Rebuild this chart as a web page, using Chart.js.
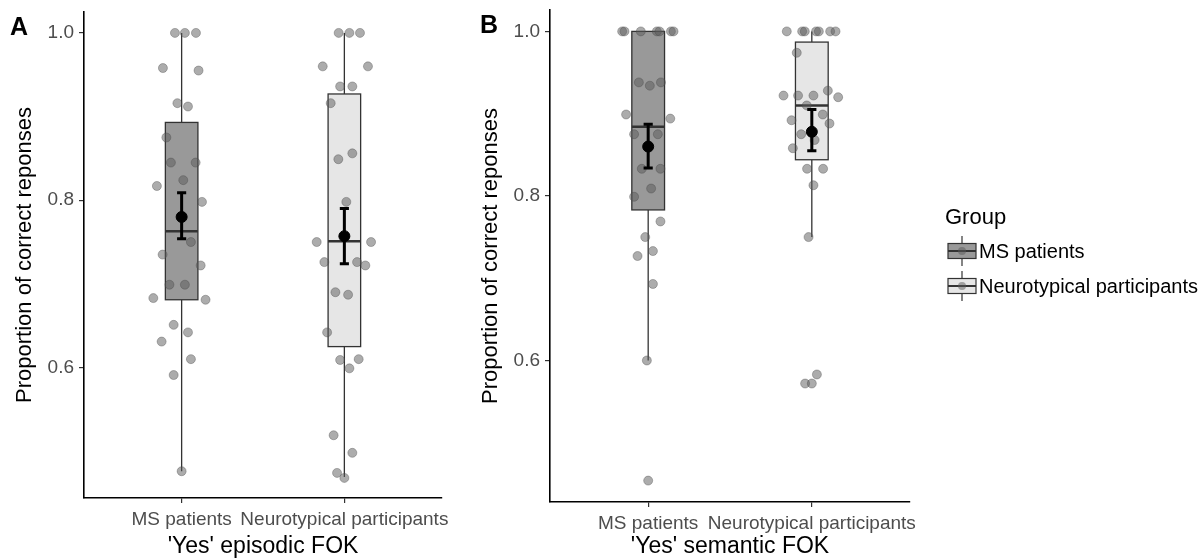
<!DOCTYPE html>
<html>
<head>
<meta charset="utf-8">
<script src="https://cdn.jsdelivr.net/npm/chart.js@4.4.1/dist/chart.umd.min.js"></script>
<style>
body { margin: 0; background: #fff; }
#wrapA { position: absolute; left: 0; top: 0; width: 460px; height: 560px; }
#wrapB { position: absolute; left: 460px; top: 0; width: 744px; height: 560px; }
</style>
</head>
<body>
<div id="wrapA"><canvas id="chartA"></canvas></div>
<div id="wrapB"><canvas id="chartB"></canvas></div>
<script>
var groups = ["MS patients", "Neurotypical participants"];
var yTicks = [0.6, 0.8, 1.0];

// 'Yes' episodic FOK - individual proportions and horizontal jitter (category units)
var epMsY   = [1.0, 1.0, 1.0, 0.958, 0.955, 0.916, 0.912, 0.875, 0.845, 0.845, 0.817, 0.824, 0.798, 0.750, 0.735, 0.722, 0.699, 0.699, 0.683, 0.681, 0.651, 0.642, 0.631, 0.610, 0.591, 0.476];
var epMsJit = [-0.041, 0.020, 0.088, -0.115, 0.104, -0.026, 0.039, -0.094, -0.066, 0.086, -0.152, 0.010, 0.125, 0.057, -0.117, 0.117, -0.075, 0.020, -0.174, 0.147, -0.049, 0.039, -0.123, 0.057, -0.049, 0];
var epNtY   = [1.0, 1.0, 1.0, 0.960, 0.960, 0.936, 0.936, 0.916, 0.856, 0.849, 0.798, 0.750, 0.750, 0.726, 0.726, 0.722, 0.690, 0.687, 0.642, 0.609, 0.610, 0.599, 0.519, 0.498, 0.474, 0.468];
var epNtJit = [-0.035, 0.031, 0.096, -0.133, 0.145, -0.026, 0.049, -0.084, 0.049, -0.037, 0.012, -0.170, 0.164, -0.123, 0.078, 0.129, -0.055, 0.023, -0.106, -0.026, 0.088, 0.031, -0.066, 0.049, -0.045, 0];
var epQ1   = [0.681, 0.625];
var epMed  = [0.763, 0.751];
var epQ3   = [0.893, 0.927];
var epLow  = [0.476, 0.469];
var epHigh = [1.0, 1.0];
var epMean = [0.780, 0.757];
var epSeLo = [0.754, 0.724];
var epSeHi = [0.809, 0.790];

// 'Yes' semantic FOK
var seMsY   = [1.0, 1.0, 1.0, 1.0, 1.0, 1.0, 1.0, 0.938, 0.934, 0.938, 0.899, 0.894, 0.875, 0.875, 0.833, 0.833, 0.809, 0.799, 0.769, 0.750, 0.727, 0.733, 0.693, 0.600, 0.454];
var seMsJit = [-0.159, -0.145, -0.045, 0.053, 0.069, 0.139, 0.155, -0.057, 0.010, 0.078, -0.135, 0.135, -0.086, 0.059, -0.039, 0.075, 0.018, -0.086, 0.075, -0.018, -0.065, 0.029, 0.029, -0.008, 0];
var seNtY   = [1.0, 1.0, 1.0, 1.0, 1.0, 1.0, 1.0, 0.974, 0.922, 0.922, 0.922, 0.928, 0.920, 0.910, 0.892, 0.899, 0.888, 0.875, 0.868, 0.858, 0.833, 0.833, 0.813, 0.750, 0.572, 0.572, 0.583];
var seNtJit = [-0.153, -0.059, -0.043, 0.026, 0.043, 0.112, 0.145, -0.092, -0.173, -0.084, 0.010, 0.098, 0.161, -0.031, -0.124, 0.067, 0.108, -0.065, 0.017, -0.116, -0.029, 0.069, 0.010, -0.020, -0.041, 0, 0.031];
var seQ1   = [0.783, 0.844];
var seMed  = [0.884, 0.910];
var seQ3   = [1.0, 0.987];
var seLow  = [0.600, 0.750];
var seHigh = [1.0, 1.0];
var seMean = [0.860, 0.878];
var seSeLo = [0.834, 0.855];
var seSeHi = [0.887, 0.905];

var boxFills = ["#999999", "#e6e6e6"];
var fontFam = "'Liberation Sans', Arial, sans-serif";

function jitterPoints(ys, jit, pos) {
    var out = [];
    for (var i = 0; i < ys.length; i++) out.push({x: pos + jit[i], y: ys[i]});
    return out;
}

function errorBarData(lo, hi) {
    var cap = 0.028, d = [];
    for (var i = 0; i < lo.length; i++) {
        var c = i + 1;
        d.push({x: c, y: lo[i]}, {x: c, y: hi[i]}, {x: c, y: null});
        d.push({x: c - cap, y: lo[i]}, {x: c + cap, y: lo[i]}, {x: c, y: null});
        d.push({x: c - cap, y: hi[i]}, {x: c + cap, y: hi[i]}, {x: c, y: null});
    }
    return d;
}

var boxPlugin = {
    id: 'boxes',
    beforeDatasetsDraw: function (chart, args, o) {
        var ctx = chart.ctx, xs = chart.scales.x, ys = chart.scales.y;
        ctx.save();
        for (var i = 0; i < o.q1.length; i++) {
            var c = xs.getPixelForValue(i + 1);
            var l = xs.getPixelForValue(i + 1 - 0.1), r = xs.getPixelForValue(i + 1 + 0.1);
            var yq1 = ys.getPixelForValue(o.q1[i]), yq3 = ys.getPixelForValue(o.q3[i]);
            ctx.strokeStyle = '#333';
            ctx.lineWidth = 1.3;
            ctx.beginPath();
            ctx.moveTo(c, ys.getPixelForValue(o.high[i])); ctx.lineTo(c, yq3);
            ctx.moveTo(c, yq1); ctx.lineTo(c, ys.getPixelForValue(o.low[i]));
            ctx.stroke();
            ctx.fillStyle = boxFills[i];
            ctx.fillRect(l, yq3, r - l, yq1 - yq3);
            ctx.strokeRect(l, yq3, r - l, yq1 - yq3);
            ctx.lineWidth = 2.5;
            ctx.beginPath();
            var ym = ys.getPixelForValue(o.med[i]);
            ctx.moveTo(l, ym); ctx.lineTo(r, ym);
            ctx.stroke();
        }
        ctx.restore();
    }
};

var panelLabel = {
    id: 'panelLabel',
    afterDraw: function (chart, args, o) {
        var ctx = chart.ctx;
        ctx.save();
        ctx.font = 'bold 25px ' + fontFam;
        ctx.fillStyle = '#000';
        ctx.textBaseline = 'alphabetic';
        ctx.fillText(o.text, o.x, o.y);
        ctx.restore();
    }
};

var groupLegend = {
    id: 'groupLegend',
    afterDraw: function (chart, args, o) {
        if (!o.show) return;
        var ctx = chart.ctx;
        ctx.save();
        ctx.fillStyle = '#000';
        ctx.font = '22px ' + fontFam;
        ctx.textBaseline = 'middle';
        ctx.fillText('Group', o.x, o.y);
        for (var i = 0; i < groups.length; i++) {
            var cy = o.y + 33 + i * 35, kx = o.x + 3;
            ctx.strokeStyle = '#333';
            ctx.lineWidth = 1.2;
            ctx.beginPath();
            ctx.moveTo(kx + 14, cy - 15); ctx.lineTo(kx + 14, cy + 15);
            ctx.stroke();
            ctx.fillStyle = boxFills[i];
            ctx.fillRect(kx, cy - 7.5, 28, 15);
            ctx.strokeRect(kx, cy - 7.5, 28, 15);
            ctx.lineWidth = 2;
            ctx.beginPath();
            ctx.moveTo(kx, cy); ctx.lineTo(kx + 28, cy);
            ctx.stroke();
            ctx.fillStyle = 'rgba(90,90,90,0.5)';
            ctx.beginPath();
            ctx.arc(kx + 14, cy, 4, 0, Math.PI * 2);
            ctx.fill();
            ctx.fillStyle = '#000';
            ctx.font = '20px ' + fontFam;
            ctx.fillText(groups[i], kx + 31, cy + 1);
        }
        ctx.restore();
    }
};

function makeChart(id, cfg) {
    var ctx = document.getElementById(id).getContext('2d');
    return new Chart(ctx, {
        type: 'scatter',
        data: {
            datasets: [{
                data: jitterPoints(cfg.msY, cfg.msJit, 1).concat(jitterPoints(cfg.ntY, cfg.ntJit, 2)),
                backgroundColor: 'rgba(90,90,90,0.5)',
                borderColor: 'rgba(70,70,70,0.45)',
                borderWidth: 0.8,
                pointRadius: 4.5,
                order: 3
            }, {
                data: errorBarData(cfg.seLo, cfg.seHi),
                showLine: true,
                spanGaps: false,
                borderColor: '#000',
                borderWidth: 3,
                pointRadius: 0,
                order: 2
            }, {
                data: cfg.mean.map(function (m, i) { return {x: i + 1, y: m}; }),
                backgroundColor: '#000',
                borderColor: '#000',
                pointRadius: 5.5,
                order: 1
            }]
        },
        options: {
            responsive: true,
            maintainAspectRatio: false,
            animation: false,
            layout: { padding: cfg.padding },
            plugins: {
                legend: { display: false },
                tooltip: { enabled: false },
                boxes: { q1: cfg.q1, med: cfg.med, q3: cfg.q3, low: cfg.low, high: cfg.high },
                panelLabel: cfg.label,
                groupLegend: cfg.legend
            },
            scales: {
                x: {
                    type: 'linear',
                    min: 0.4,
                    max: 2.6,
                    afterBuildTicks: function (s) { s.ticks = [{value: 1}, {value: 2}]; },
                    afterFit: function (s) { s.height = cfg.xHeight; s.paddingLeft = 0; s.paddingRight = 0; },
                    ticks: {
                        callback: function (v) { return groups[v - 1]; },
                        autoSkip: false,
                        maxRotation: 0,
                        padding: 5,
                        color: '#4d4d4d',
                        font: { family: fontFam, size: 19 }
                    },
                    grid: { display: true, drawOnChartArea: false, drawTicks: true, tickLength: 5, color: '#333', lineWidth: 1.2 },
                    border: { display: true, color: '#000', width: 1.6 },
                    title: { display: true, text: cfg.xTitle, color: '#000', padding: 0, font: { family: fontFam, size: 23 } }
                },
                y: {
                    min: cfg.yMin,
                    max: cfg.yMax,
                    afterBuildTicks: function (s) { s.ticks = yTicks.map(function (v) { return {value: v}; }); },
                    afterFit: function (s) { s.width = 84; s.paddingTop = 0; s.paddingBottom = 0; },
                    ticks: {
                        callback: function (v) { return v.toFixed(1); },
                        padding: 5,
                        color: '#4d4d4d',
                        font: { family: fontFam, size: 19 }
                    },
                    grid: { display: true, drawOnChartArea: false, drawTicks: true, tickLength: 5, color: '#333', lineWidth: 1.2 },
                    border: { display: true, color: '#000', width: 1.6 },
                    title: { display: true, text: 'Proportion of correct reponses', color: '#000', padding: { top: 12, bottom: 0 }, font: { family: fontFam, size: 22 } }
                }
            }
        },
        plugins: [boxPlugin, panelLabel, groupLegend]
    });
}

makeChart('chartA', {
    msY: epMsY, msJit: epMsJit, ntY: epNtY, ntJit: epNtJit,
    q1: epQ1, med: epMed, q3: epQ3, low: epLow, high: epHigh,
    mean: epMean, seLo: epSeLo, seHi: epSeHi,
    yMin: 0.444, yMax: 1.025,
    xTitle: "'Yes' episodic FOK",
    padding: { top: 12, right: 18, left: 0, bottom: 0 },
    xHeight: 62,
    label: { text: 'A', x: 10, y: 35 },
    legend: { show: false }
});

makeChart('chartB', {
    msY: seMsY, msJit: seMsJit, ntY: seNtY, ntJit: seNtJit,
    q1: seQ1, med: seMed, q3: seQ3, low: seLow, high: seHigh,
    mean: seMean, seLo: seSeLo, seHi: seSeHi,
    yMin: 0.428, yMax: 1.026,
    xTitle: "'Yes' semantic FOK",
    padding: { top: 10, right: 294, left: 6, bottom: 0 },
    xHeight: 58,
    label: { text: 'B', x: 20, y: 33 },
    legend: { show: true, x: 485, y: 218 }
});
</script>
</body>
</html>
